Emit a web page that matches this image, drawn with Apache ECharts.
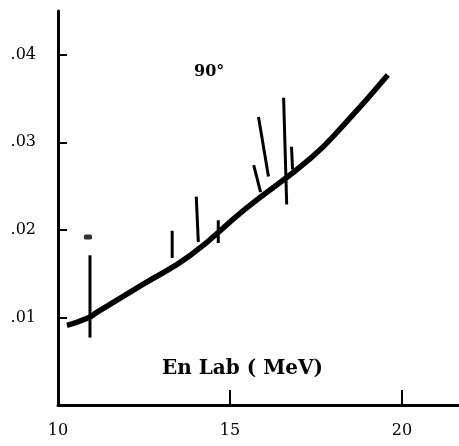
<!DOCTYPE html>
<html lang="en">
    <head>
        <meta charset="utf-8">
        <title>En Lab 90</title>
        <script src="https://cdn.jsdelivr.net/npm/echarts@6/dist/echarts.min.js"></script>
        <style>
            body { margin: 0; background: #fff; }
        </style>
    </head>
    <body>
        <div id="main" style="width: 459px;height: 446px;"></div>

        <script type="text/javascript">

            // smooth curve (energy MeV, value)
            let curveX = [10.26, 10.85, 11.14, 12.48, 13.85, 15.45, 17.35, 18.31, 19.59];
            let curveY = [0.0091, 0.0099, 0.0106, 0.0138, 0.0171, 0.0224, 0.0282, 0.0320, 0.0377];

            // error bars, drawn as segments from (x1,y1) to (x2,y2)
            let errX1 = [10.93, 13.32, 14.02, 14.66, 15.69, 15.83, 16.56, 16.79];
            let errY1 = [0.0171, 0.0199, 0.0238, 0.0211, 0.0274, 0.0329, 0.0351, 0.0295];
            let errX2 = [10.93, 13.32, 14.08, 14.66, 15.89, 16.12, 16.65, 16.82];
            let errY2 = [0.0077, 0.0168, 0.0186, 0.0185, 0.0243, 0.0261, 0.0229, 0.0269];

            // lone dot above the first bar
            let dotX = [10.87];
            let dotY = [0.0192];

            let yTickLabels = ['', '.01', '.02', '.03', '.04'];
            let xTickLabels = {10: '10', 15: '15', 20: '20'};

            let myChart = echarts.init(document.getElementById('main'));

            let serif = 'DejaVu Serif';

            let options = {
                animation: false,
                backgroundColor: '#fff',
                grid: {left: 58, right: 0, top: 11, bottom: 41},
                xAxis: {
                    type: 'value', min: 10, max: 21.66, interval: 5,
                    splitLine: {show: false},
                    axisLine: {lineStyle: {color: '#000', width: 3}},
                    axisTick: {inside: true, length: 15, lineStyle: {color: '#000', width: 2}},
                    axisLabel: {
                        color: '#000', fontFamily: serif, fontSize: 16, margin: 18,
                        showMaxLabel: false,
                        formatter: v => xTickLabels[v] || ''
                    }
                },
                yAxis: {
                    type: 'value', min: 0, max: 0.045, interval: 0.01,
                    splitLine: {show: false},
                    axisLine: {lineStyle: {color: '#000', width: 3}},
                    axisTick: {inside: true, length: 9, lineStyle: {color: '#000', width: 2}},
                    axisLabel: {
                        color: '#000', fontFamily: serif, fontSize: 16, margin: 22,
                        showMaxLabel: false,
                        formatter: v => yTickLabels[Math.round(v * 100)] || ''
                    }
                },
                graphic: [
                    {type: 'text', left: 194, top: 64,
                     style: {text: '90°', fontFamily: serif, fontWeight: 'bold', fontSize: 16, fill: '#000'}},
                    {type: 'text', left: 162, top: 359,
                     style: {text: 'En Lab ( MeV)', fontFamily: serif, fontWeight: 'bold', fontSize: 20, fill: '#000'}}
                ],
                series: [
                    {
                        type: 'line',
                        smooth: 0.5,
                        showSymbol: false,
                        lineStyle: {color: '#000', width: 5.5},
                        data: curveX.map((x, i) => [x, curveY[i]])
                    },
                    {
                        type: 'custom',
                        data: errX1.map((x, i) => [x, errY1[i], errX2[i], errY2[i]]),
                        renderItem: (params, api) => {
                            let p1 = api.coord([api.value(0), api.value(1)]);
                            let p2 = api.coord([api.value(2), api.value(3)]);
                            return {
                                type: 'line',
                                shape: {x1: p1[0], y1: p1[1], x2: p2[0], y2: p2[1]},
                                style: {stroke: '#000', lineWidth: 3}
                            };
                        }
                    },
                    {
                        type: 'scatter',
                        symbol: 'roundRect',
                        symbolSize: [8, 5],
                        itemStyle: {color: '#000'},
                        data: dotX.map((x, i) => [x, dotY[i]])
                    }
                ]
            };

            myChart.setOption(options);
        </script>
    </body>
</html>
